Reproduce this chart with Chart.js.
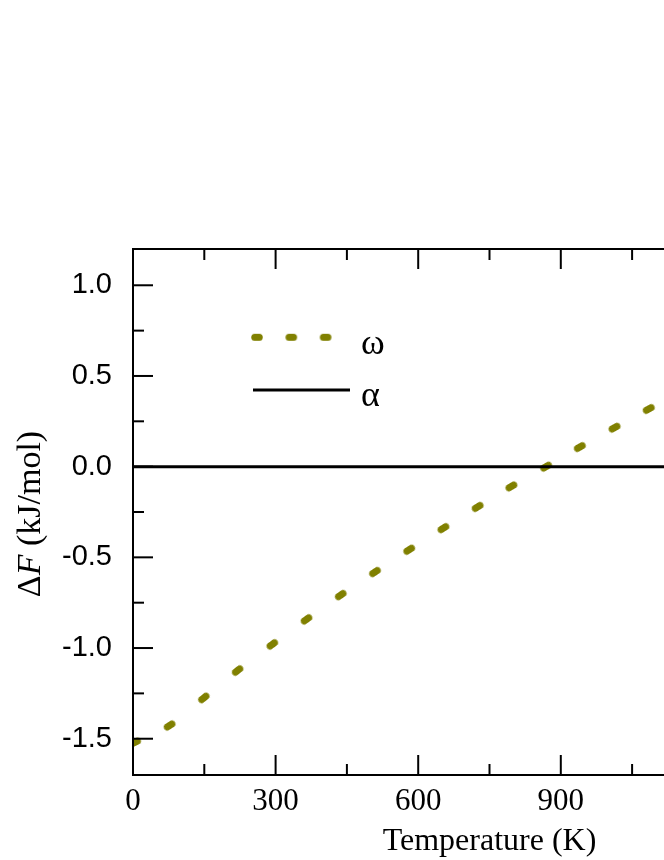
<!DOCTYPE html>
<html>
<head>
<meta charset="utf-8">
<script src="https://cdn.jsdelivr.net/npm/chart.js@4/dist/chart.umd.min.js"></script>
<style>
html,body{margin:0;padding:0;overflow:hidden;background:#fff;width:664px;height:860px}
#wrap{position:absolute;left:0;top:0;width:900px;height:860px}
</style>
</head>
<body>
<div id="wrap"><canvas id="c" width="900" height="860"></canvas></div>
<script>
// ---- data ----
const temperatureOmega = [4, 77, 149, 220, 293, 365, 437, 509, 581, 653, 725, 796, 869, 940, 1013, 1085];
const deltaFOmega = [-1.52, -1.427, -1.275, -1.124, -0.98, -0.842, -0.708, -0.581, -0.458, -0.339, -0.222, -0.109, 0.0, 0.108, 0.215, 0.318];
const temperatureAlpha = [0, 1500];
const deltaFAlpha = [0, 0];
const seriesLabels = ['ω', 'α'];
const xMajorTicks = [0, 300, 600, 900, 1200, 1500];
const xMinorTicks = [150, 450, 750, 1050, 1350];
const yMajorTicks = [-1.5, -1.0, -0.5, 0.0, 0.5, 1.0];
const yMinorTicks = [-1.25, -0.75, -0.25, 0.25, 0.75];
const xTitle = 'Temperature (K)';
const yTitleParts = [['Δ', 'normal'], ['F', 'italic'], [' (kJ/mol)', 'normal']];

const OLIVE = '#808000';
const SERIF = '"Liberation Serif", "Times New Roman", serif';
const SANS = '"Liberation Sans", Arial, sans-serif';

function makeDash(core, w, color) {
  const c = document.createElement('canvas');
  c.width = Math.ceil(core + w + 2);
  c.height = Math.ceil(w + 2);
  const g = c.getContext('2d');
  g.strokeStyle = color; g.lineWidth = w; g.lineCap = 'round';
  g.beginPath();
  g.moveTo(c.width / 2 - core / 2, c.height / 2);
  g.lineTo(c.width / 2 + core / 2, c.height / 2);
  g.stroke();
  return c;
}
const dashImg = makeDash(5.5, 7, OLIVE);
const legendDashImg = makeDash(4.5, 7, OLIVE);

function dashRotation(ctx) {
  if (ctx.type !== 'data') return 0;
  const ch = ctx.chart, xs = ch.scales.x, ys = ch.scales.y;
  if (!xs || !ys) return 0;
  const n = temperatureOmega.length, i = ctx.dataIndex;
  const a = Math.max(0, i - 1), b = Math.min(n - 1, i + 1);
  const dx = xs.getPixelForValue(temperatureOmega[b]) - xs.getPixelForValue(temperatureOmega[a]);
  const dy = ys.getPixelForValue(deltaFOmega[b]) - ys.getPixelForValue(deltaFOmega[a]);
  const r = Math.atan2(dy, dx) * 180 / Math.PI;
  return isFinite(r) ? r : 0;
}

const framePlugin = {
  id: 'frame',
  afterDraw(chart) {
    const { ctx, chartArea: a, scales: { x, y } } = chart;
    ctx.save();
    ctx.strokeStyle = '#000';
    ctx.lineWidth = 2;
    ctx.lineCap = 'butt';
    ctx.strokeRect(a.left, a.top, a.right - a.left, a.bottom - a.top);
    const seg = (x1, y1, x2, y2) => { ctx.beginPath(); ctx.moveTo(x1, y1); ctx.lineTo(x2, y2); ctx.stroke(); };
    const MAJ = 20, MIN = 11;
    xMajorTicks.forEach(v => { const p = x.getPixelForValue(v); seg(p, a.bottom, p, a.bottom - MAJ); seg(p, a.top, p, a.top + MAJ); });
    xMinorTicks.forEach(v => { const p = x.getPixelForValue(v); seg(p, a.bottom, p, a.bottom - MIN); seg(p, a.top, p, a.top + MIN); });
    yMajorTicks.forEach(v => { const p = y.getPixelForValue(v); seg(a.left, p, a.left + MAJ, p); seg(a.right, p, a.right - MAJ, p); });
    yMinorTicks.forEach(v => { const p = y.getPixelForValue(v); seg(a.left, p, a.left + MIN, p); seg(a.right, p, a.right - MIN, p); });

    // axis titles
    ctx.fillStyle = '#000';
    ctx.font = '32px ' + SERIF;
    ctx.textAlign = 'center';
    ctx.textBaseline = 'alphabetic';
    ctx.fillText(xTitle, (a.left + a.right) / 2, 850);

    ctx.save();
    ctx.translate(40, (a.top + a.bottom) / 2 + 2);
    ctx.rotate(-Math.PI / 2);
    ctx.textAlign = 'left';
    let total = 0;
    yTitleParts.forEach(([t, st]) => { ctx.font = st + ' 34px ' + SERIF; total += ctx.measureText(t).width; });
    let px = -total / 2;
    yTitleParts.forEach(([t, st]) => { ctx.font = st + ' 34px ' + SERIF; ctx.fillText(t, px, 0); px += ctx.measureText(t).width; });
    ctx.restore();

    // legend
    const lx = a.left + 118, ly1 = a.top + 88.3, ly2 = a.top + 141;
    for (let k = 0; k < 3; k++) {
      const cx = lx + 6 + k * 34.3;
      ctx.drawImage(legendDashImg, cx - legendDashImg.width / 2, ly1 - legendDashImg.height / 2);
    }
    ctx.strokeStyle = '#000';
    ctx.lineWidth = 3;
    seg(lx + 2, ly2, lx + 99, ly2);
    ctx.font = '36px ' + SERIF;
    ctx.textAlign = 'left';
    ctx.fillText(seriesLabels[0], a.left + 228, a.top + 105);
    ctx.fillText(seriesLabels[1], a.left + 228, a.top + 157);
    ctx.restore();
  }
};

new Chart(document.getElementById('c'), {
  type: 'line',
  data: {
    datasets: [
      {
        label: seriesLabels[1],
        data: temperatureAlpha.map((t, i) => ({ x: t, y: deltaFAlpha[i] })),
        borderColor: '#000',
        borderWidth: 3,
        pointRadius: 0,
        fill: false,
        clip: 0
      },
      {
        label: seriesLabels[0],
        data: temperatureOmega.map((t, i) => ({ x: t, y: deltaFOmega[i] })),
        showLine: false,
        pointStyle: dashImg,
        pointRadius: 6,
        pointRotation: dashRotation,
        clip: 0
      }
    ]
  },
  options: {
    responsive: false,
    animation: false,
    devicePixelRatio: 1,
    events: [],
    layout: { padding: { top: 249, right: 54, left: 0, bottom: 0 } },
    plugins: { legend: { display: false }, tooltip: { enabled: false } },
    scales: {
      x: {
        type: 'linear', min: 0, max: 1500,
        afterBuildTicks: s => { s.ticks = xMajorTicks.map(v => ({ value: v })); },
        afterFit: s => { s.height = 85; },
        grid: { display: false, drawTicks: false },
        border: { display: false },
        ticks: { font: { family: SERIF, size: 31 }, color: '#000', padding: 8, maxRotation: 0, autoSkip: false }
      },
      y: {
        type: 'linear', min: -1.7, max: 1.2,
        afterBuildTicks: s => { s.ticks = yMajorTicks.map(v => ({ value: v })); },
        afterFit: s => { s.width = 133; },
        grid: { display: false, drawTicks: false },
        border: { display: false },
        ticks: { font: { family: SANS, size: 29 }, color: '#000', padding: 21, autoSkip: false,
                 callback: v => v.toFixed(1) }
      }
    }
  },
  plugins: [framePlugin]
});
</script>
</body>
</html>
